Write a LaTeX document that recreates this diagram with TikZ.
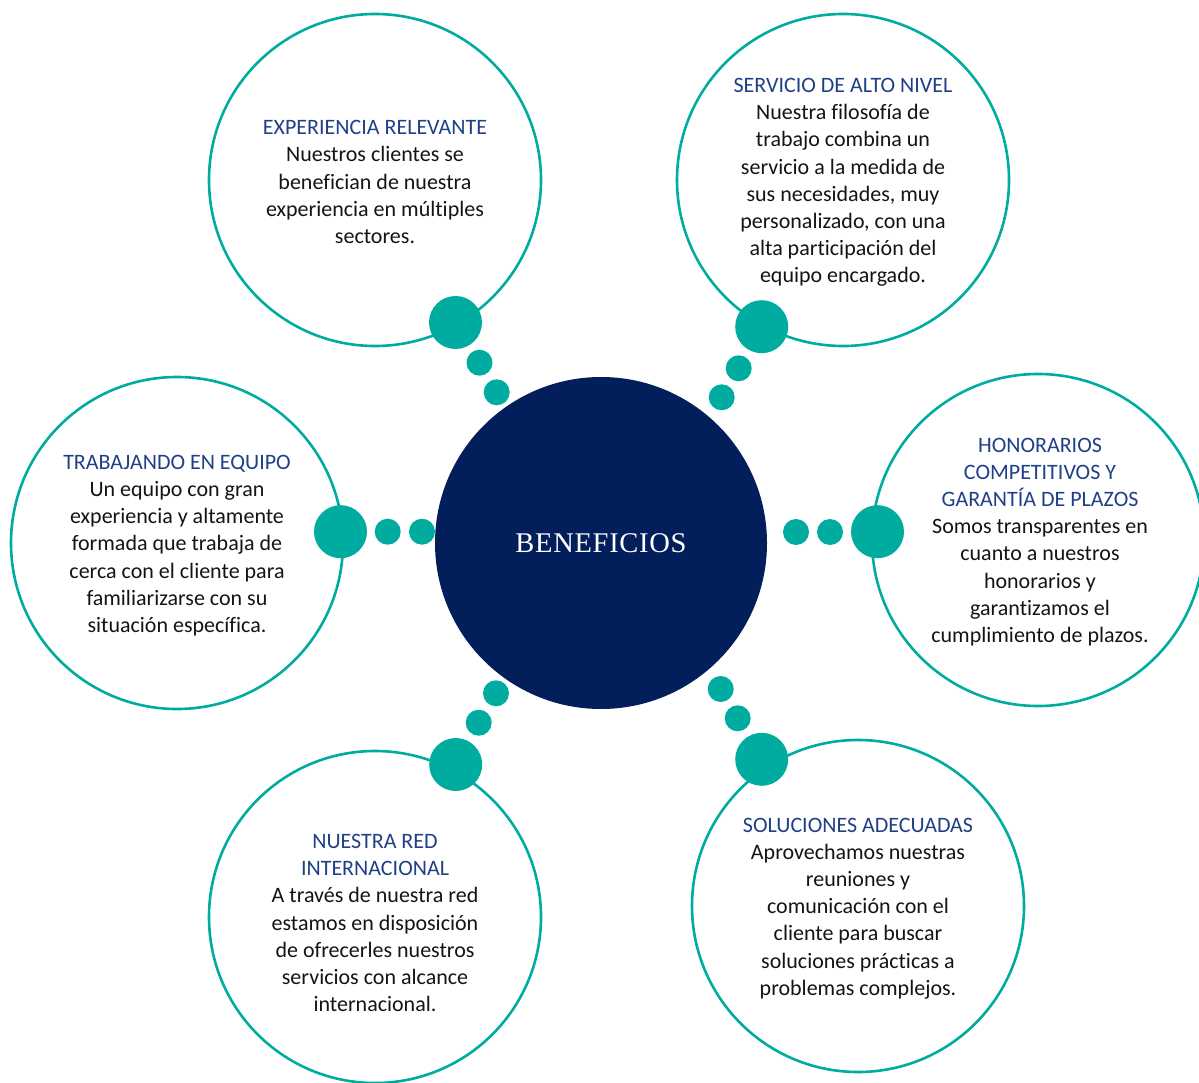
\documentclass[tikz,border=0pt]{standalone}
\usepackage{fontspec}
\setmainfont[Ligatures=NoCommon]{Carlito}
\newfontfamily\benefont[LetterSpace=2.5]{Liberation Serif}
\definecolor{teal1}{HTML}{00ACA0}
\definecolor{navy1}{HTML}{021F5B}
\definecolor{ttl}{HTML}{1F3F87}
\definecolor{bodyc}{HTML}{141414}
\tikzset{
  bubble/.style={circle, draw=teal1, line width=2.6pt, minimum size=332pt, inner sep=0pt},
  hub/.style={circle, fill=navy1, minimum size=332pt, inner sep=0pt},
  bigdot/.style={circle, fill=teal1, minimum size=53pt, inner sep=0pt},
  smalldot/.style={circle, fill=teal1, minimum size=26pt, inner sep=0pt},
  txt/.style={align=center, text=bodyc, font=\fontsize{22}{27.2}\selectfont, inner sep=0pt},
}
\newcommand{\ttlx}[1]{\textcolor{ttl}{#1}}
\begin{document}
\begin{tikzpicture}[x=1pt,y=-1pt]
\useasboundingbox (0,0) rectangle (1199,1083);
\begin{scope}
\clip (0,0) rectangle (1199,1083);
% outer bubbles
\node[bubble] (b1) at (375,180) {};
\node[bubble] (b2) at (843,180) {};
\node[bubble] (b3) at (177,543) {};
\node[bubble] (b4) at (1038,540) {};
\node[bubble] (b5) at (375,917) {};
\node[bubble] (b6) at (858,906) {};
\end{scope}
% hub
\node[hub] (hub) at (601,543) {};
\node[text=white, font=\benefont\fontsize{28.5}{30}\selectfont, inner sep=0pt] (hubt) at (601,543) {BENEFICIOS};
% dots
\node[bigdot] (d1a) at (455.5,322.5) {};
\node[smalldot] (d1b) at (479.5,362.7) {};
\node[smalldot] (d1c) at (496.7,392.3) {};
\node[bigdot] (d2a) at (761.7,326.7) {};
\node[smalldot] (d2b) at (738.7,368.3) {};
\node[smalldot] (d2c) at (721.7,397.3) {};
\node[bigdot] (d3a) at (340.5,531.7) {};
\node[smalldot] (d3b) at (387.7,531.7) {};
\node[smalldot] (d3c) at (422,531.7) {};
\node[bigdot] (d4a) at (877.5,531.7) {};
\node[smalldot] (d4b) at (830,532) {};
\node[smalldot] (d4c) at (796,532) {};
\node[bigdot] (d5a) at (455.7,764.5) {};
\node[smalldot] (d5b) at (478.7,722.7) {};
\node[smalldot] (d5c) at (496,693.3) {};
\node[bigdot] (d6a) at (761.7,759.3) {};
\node[smalldot] (d6b) at (737.7,718.3) {};
\node[smalldot] (d6c) at (720.7,689) {};
% texts
\node[txt] (t1) at (375,182) {\ttlx{EXPERIENCIA RELEVANTE}\\Nuestros clientes se\\benefician de nuestra\\experiencia en múltiples\\sectores.};
\node[txt] (t2) at (843,182.5) {\ttlx{SERVICIO DE ALTO NIVEL}\\Nuestra filosofía de\\trabajo combina un\\servicio a la medida de\\sus necesidades, muy\\personalizado, con una\\alta participación del\\equipo encargado.};
\node[txt] (t3) at (177,545.5) {\ttlx{TRABAJANDO EN EQUIPO}\\Un equipo con gran\\experiencia y altamente\\formada que trabaja de\\cerca con el cliente para\\familiarizarse con su\\situación específica.};
\node[txt] (t4) at (1040,542) {\ttlx{HONORARIOS}\\\ttlx{COMPETITIVOS Y}\\\ttlx{GARANTÍA DE PLAZOS}\\Somos transparentes en\\cuanto a nuestros\\honorarios y\\garantizamos el\\cumplimiento de plazos.};
\node[txt] (t5) at (375,923) {\ttlx{NUESTRA RED}\\\ttlx{INTERNACIONAL}\\A través de nuestra red\\estamos en disposición\\de ofrecerles nuestros\\servicios con alcance\\internacional.};
\node[txt] (t6) at (858,908.5) {\ttlx{SOLUCIONES ADECUADAS}\\Aprovechamos nuestras\\reuniones y\\comunicación con el\\cliente para buscar\\soluciones prácticas a\\problemas complejos.};
\end{tikzpicture}
\end{document}
